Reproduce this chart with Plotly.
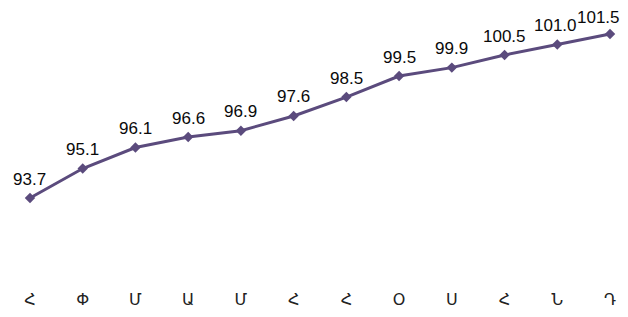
import plotly.graph_objects as go

months = ["Հ", "Փ", "Մ", "Ա", "Մ", "Հ", "Հ", "Օ", "Ս", "Հ", "Ն", "Դ"]
values = [93.7, 95.1, 96.1, 96.6, 96.9, 97.6, 98.5, 99.5, 99.9, 100.5, 101.0, 101.5]
labels = [f"{v:.1f}" for v in values]
xs = list(range(len(months)))

fig = go.Figure(go.Scatter(
    x=xs, y=values, mode="lines+markers",
    line=dict(color="#5B4B7D", width=3),
    marker=dict(symbol="diamond", size=8, color="#5B4B7D"),
    cliponaxis=False, hoverinfo="skip",
))

last = len(xs) - 1
for i, (x, v, t) in enumerate(zip(xs, values, labels)):
    fig.add_annotation(x=x, y=v, text=t, showarrow=False, yanchor="middle",
                       xanchor="center", yshift=16 if i == last else 19,
                       xshift=-12 if i == last else (-2 if i == last - 1 else 0),
                       font=dict(family="Liberation Sans, Arial", size=17, color="#0a0a0a"))

fig.update_layout(
    width=620, height=309,
    margin=dict(l=0, r=0, t=0, b=29),
    paper_bgcolor="white", plot_bgcolor="white",
    showlegend=False,
    xaxis=dict(range=[-0.417, 11.341], tickvals=xs, ticktext=months,
               showgrid=False, zeroline=False, showline=False, ticks="",
               tickfont=dict(family="DejaVu Sans", size=16, color="#222222")),
    yaxis=dict(range=[89.42, 102.735], visible=False),
)

fig.write_html("out.html")
